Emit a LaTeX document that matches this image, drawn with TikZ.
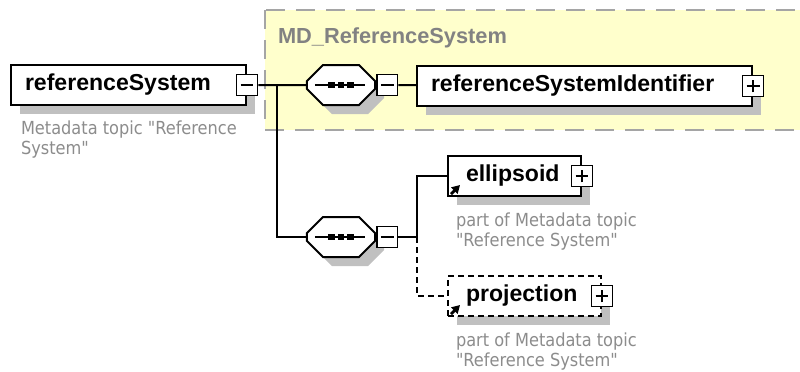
\documentclass[tikz,border=0pt]{standalone}
\usepackage{fontspec}
\setmainfont{Liberation Sans}
\newfontfamily\notefont{DejaVu Sans Condensed}
\usetikzlibrary{arrows.meta,shapes.misc,shadows}
\definecolor{groupfill}{RGB}{255,255,204}
\definecolor{groupline}{RGB}{165,165,165}
\definecolor{titlegray}{RGB}{130,130,130}
\definecolor{notegray}{RGB}{140,140,140}
\definecolor{shadowgray}{RGB}{192,192,192}
\newcommand{\seqbody}{\rule[-0.3cm]{1.3cm}{0pt}\rule[-0.3cm]{0pt}{0.6cm}}
\begin{document}
\begin{tikzpicture}[
  x=0.025cm,y=-0.025cm,
  line width=0.05cm,
  shade/.style={drop shadow={shadow xshift=0.225cm,shadow yshift=-0.225cm,
    fill=shadowgray,opacity=1}},
  elem/.style={draw,fill=white,shade,anchor=west,minimum height=1cm,
    inner xsep=0.35cm,inner ysep=0pt,align=left,
    font=\fontsize{16.4}{19}\selectfont\bfseries},
  refelem/.style={elem,inner xsep=0.45cm,
    path picture={\draw[-{Triangle[length=2mm,width=2.2mm]},line width=0.07cm]
      ([shift={(3,-2)}]path picture bounding box.south west) -- ++(9,-9);}},
  seq/.style={chamfered rectangle,chamfered rectangle xsep=0.2cm,
    chamfered rectangle ysep=0.2cm,draw,fill=white,shade,inner sep=0pt,
    path picture={
      \draw[line width=0.05cm] ([xshift=-0.65cm]path picture bounding box.center)
        -- ([xshift=0.6cm]path picture bounding box.center);
      \draw[line width=0.16cm,dash pattern=on 0.16cm off 0.075cm]
        ([xshift=-0.315cm]path picture bounding box.center)
        -- ([xshift=0.33cm]path picture bounding box.center);}},
  pm/.style={draw,fill=white,minimum size=0.52cm,inner sep=0pt,line width=0.04cm},
  minus/.style={pm,path picture={
    \draw ([xshift=-0.16cm]path picture bounding box.center)
      -- ([xshift=0.16cm]path picture bounding box.center);}},
  plus/.style={pm,path picture={
    \draw ([xshift=-0.16cm]path picture bounding box.center)
      -- ([xshift=0.16cm]path picture bounding box.center);
    \draw ([yshift=-0.16cm]path picture bounding box.center)
      -- ([yshift=0.16cm]path picture bounding box.center);}},
  note/.style={anchor=west,align=left,inner sep=0pt,text=notegray,
    font=\notefont\fontsize{12.8}{14.2}\selectfont},
  opt/.style={dash pattern=on 0.15cm off 0.1cm}]
\path[use as bounding box] (0,0) rectangle (800,371);
% complex type group
\draw[fill=groupfill,draw=groupline,line width=0.06cm,
  dash pattern=on 0.475cm off 0.275cm] (265,10) rectangle (815,130);
\node[anchor=west,text=titlegray,inner sep=0pt,
  font=\fontsize{15.5}{18}\selectfont\bfseries] (grouptitle) at (277,38)
  {MD\_ReferenceSystem};

% root element
\node[elem,text width=5.175cm] (refsys) at (10,85) {referenceSystem};
\node[minus] (refsysmin) at (refsys.east) {};
\node[note] (refsysnote) at (20,140) {Metadata topic "Reference\\System"};

% first sequence
\node[seq] (seqa) at (341,85) {\seqbody};
\node[minus,anchor=west] (seqamin) at (seqa.east) {};
\node[elem,text width=7.675cm] (ident) at (416,86) {referenceSystemIdentifier};
\node[plus] (identplus) at (ident.east) {};

% second sequence
\node[seq] (seqb) at (341,237) {\seqbody};
\node[minus,anchor=west] (seqbmin) at (seqb.east) {};
\node[refelem,text width=2.425cm] (ellip) at (447,176) {ellipsoid};
\node[plus] (ellipplus) at (ellip.east) {};
\node[note] (ellipnote) at (455,232) {part of Metadata topic\\"Reference System"};
\node[refelem,opt,text width=2.925cm] (proj) at (447,296) {projection};
\node[plus] (projplus) at (proj.east) {};
\node[note] (projnote) at (455,352) {part of Metadata topic\\"Reference System"};

% connectors
\coordinate (split) at (277,85);
\coordinate (fork) at (417,237);
\draw (refsysmin) -- (seqa);
\draw (split) |- (seqb.west);
\draw (seqamin) -- (ident);
\draw (seqbmin) -- (fork) |- (ellip.west);
\draw[opt] (fork) |- (proj.west);
\end{tikzpicture}
\end{document}
